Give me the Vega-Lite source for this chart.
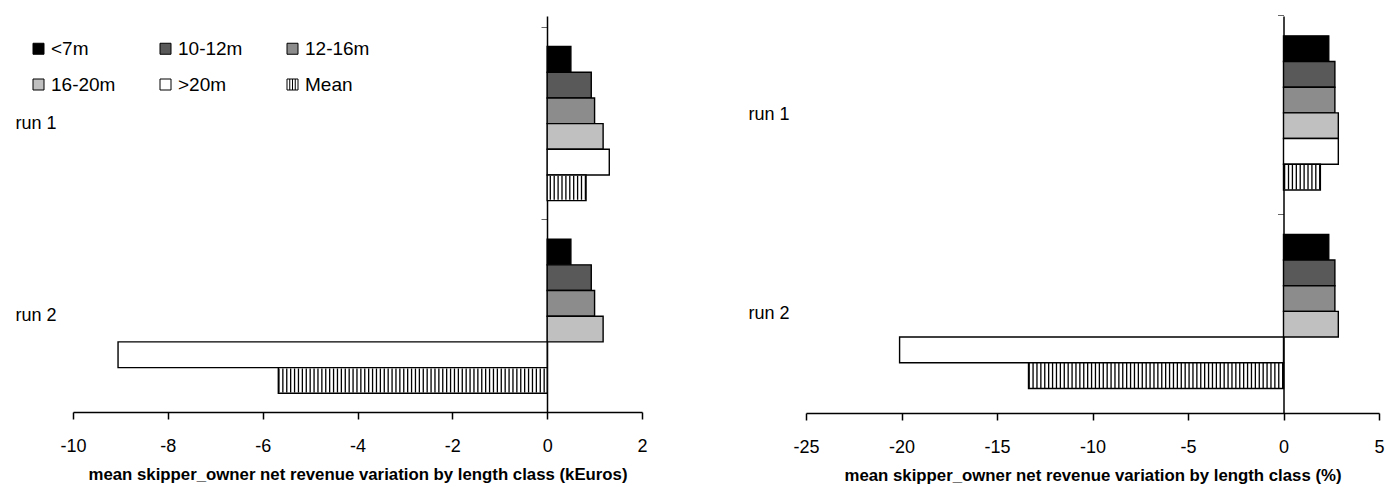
{
  "$schema": "https://vega.github.io/schema/vega-lite/v6.json",
  "padding": {"left": 14, "top": 14, "right": 0, "bottom": 0},
  "background": "white",
  "config": {
    "font": "Liberation Sans",
    "view": {"stroke": null},
    "axis": {"labelColor": "black", "titleColor": "black", "labelFont": "Liberation Sans", "titleFont": "Liberation Sans"},
    "legend": {"labelFont": "Liberation Sans", "labelColor": "black"}
  },
  "data": {"values": [
    {"unit": "kEuros", "run": "run 1", "cls": "<7m", "value": 0.5},
    {"unit": "kEuros", "run": "run 1", "cls": "10-12m", "value": 0.93},
    {"unit": "kEuros", "run": "run 1", "cls": "12-16m", "value": 1.0},
    {"unit": "kEuros", "run": "run 1", "cls": "16-20m", "value": 1.18},
    {"unit": "kEuros", "run": "run 1", "cls": ">20m", "value": 1.31},
    {"unit": "kEuros", "run": "run 1", "cls": "Mean", "value": 0.82},
    {"unit": "kEuros", "run": "run 2", "cls": "<7m", "value": 0.5},
    {"unit": "kEuros", "run": "run 2", "cls": "10-12m", "value": 0.93},
    {"unit": "kEuros", "run": "run 2", "cls": "12-16m", "value": 1.0},
    {"unit": "kEuros", "run": "run 2", "cls": "16-20m", "value": 1.18},
    {"unit": "kEuros", "run": "run 2", "cls": ">20m", "value": -9.05},
    {"unit": "kEuros", "run": "run 2", "cls": "Mean", "value": -5.67},
    {"unit": "pct", "run": "run 1", "cls": "<7m", "value": 2.37},
    {"unit": "pct", "run": "run 1", "cls": "10-12m", "value": 2.69},
    {"unit": "pct", "run": "run 1", "cls": "12-16m", "value": 2.69},
    {"unit": "pct", "run": "run 1", "cls": "16-20m", "value": 2.87},
    {"unit": "pct", "run": "run 1", "cls": ">20m", "value": 2.87},
    {"unit": "pct", "run": "run 1", "cls": "Mean", "value": 1.93},
    {"unit": "pct", "run": "run 2", "cls": "<7m", "value": 2.37},
    {"unit": "pct", "run": "run 2", "cls": "10-12m", "value": 2.69},
    {"unit": "pct", "run": "run 2", "cls": "12-16m", "value": 2.69},
    {"unit": "pct", "run": "run 2", "cls": "16-20m", "value": 2.87},
    {"unit": "pct", "run": "run 2", "cls": ">20m", "value": -20.1},
    {"unit": "pct", "run": "run 2", "cls": "Mean", "value": -13.35}
  ]},
  "spacing": 99,
  "resolve": {"legend": {"fill": "independent"}, "scale": {"fill": "independent"}},
  "hconcat": [
    {
      "width": 569,
      "height": 396,
      "transform": [{"filter": "datum.unit === 'kEuros'"}],
      "resolve": {"axis": {"y": "independent"}},
      "encoding": {
        "x": {"field": "value", "type": "quantitative",
          "scale": {"domain": [-10, 2], "nice": false, "zero": false},
          "axis": {"title": "mean skipper_owner net revenue variation by length class (kEuros)",
            "values": [-10, -8, -6, -4, -2, 0, 2], "grid": false, "labelExpr": "'' + datum.value",
            "domainColor": "black", "domainWidth": 1.5, "tickColor": "black", "tickWidth": 1.5, "tickSize": 7,
            "labelFontSize": 18, "labelFlush": false, "labelPadding": 18,
            "titleFontSize": 16.8, "titleFontWeight": "bold", "titlePadding": 11}}
      },
      "layer": [
        {
          "mark": {"type": "bar", "stroke": "black", "strokeWidth": 1.4},
          "encoding": {
            "y": {"field": "run", "type": "nominal",
              "scale": {"domain": ["run 1", "run 2"], "paddingInner": 0.2, "paddingOuter": 0.128, "align": 0.62},
              "axis": {"title": null, "domain": false, "ticks": false, "tickSize": 0, "labelPadding": 17, "labelFontSize": 18, "labelAngle": 0}},
            "yOffset": {"field": "cls", "type": "nominal",
              "scale": {"domain": ["<7m", "10-12m", "12-16m", "16-20m", ">20m", "Mean"], "paddingInner": 0, "paddingOuter": 0}},
            "fill": {"field": "cls", "type": "nominal",
              "scale": {"domain": ["<7m", "10-12m", "12-16m", "16-20m", ">20m", "Mean"],
                "range": ["#000000", "#595959", "#8c8c8c", "#c0c0c0", "#ffffff", "#ffffff"]},
              "legend": {"title": null, "orient": "none", "legendX": -44, "legendY": 23, "columns": 3, "direction": "horizontal",
                "symbolType": "square", "symbolSize": 121, "symbolStrokeColor": "black", "symbolStrokeWidth": 1,
                "labelFontSize": 19, "labelOffset": 3, "columnPadding": 40, "rowPadding": 16, "padding": 0, "gridAlign": "all",
                "encode": {"symbols": {"update": {"shape": [
                  {"test": "datum.value === 'Mean'", "value": "M-1,-1H1V1H-1Z M-0.5,-1V1 M0,-1V1 M0.5,-1V1"},
                  {"value": "square"}]}}}}}
          }
        },
        {
          "transform": [{"filter": "datum.cls === 'Mean'"}],
          "mark": {"type": "rule", "color": "black", "strokeWidth": 24, "strokeDash": [1.3, 2.6], "strokeCap": "butt"},
          "encoding": {
            "y": {"field": "run", "type": "nominal",
              "scale": {"domain": ["run 1", "run 2"]},
              "axis": {"orient": "left", "offset": -474, "labels": false, "title": null, "domain": true, "domainColor": "black", "domainWidth": 1.5,
                "ticks": true, "tickSize": 6, "tickColor": "#666666", "tickWidth": 1, "bandPosition": -0.125}},
            "yOffset": {"field": "cls", "type": "nominal",
              "scale": {"domain": ["<7m", "10-12m", "12-16m", "16-20m", ">20m", "Mean"]}},
            "x2": {"datum": 0}
          }
        }
      ]
    },
    {
      "width": 573,
      "height": 397,
      "transform": [{"filter": "datum.unit === 'pct'"}],
      "resolve": {"axis": {"y": "independent"}},
      "encoding": {
        "x": {"field": "value", "type": "quantitative",
          "scale": {"domain": [-25, 5], "nice": false, "zero": false},
          "axis": {"title": "mean skipper_owner net revenue variation by length class (%)",
            "values": [-25, -20, -15, -10, -5, 0, 5], "grid": false, "labelExpr": "'' + datum.value",
            "domainColor": "black", "domainWidth": 1.5, "tickColor": "black", "tickWidth": 1.5, "tickSize": 7,
            "labelFontSize": 18, "labelFlush": false, "labelPadding": 18,
            "titleFontSize": 16.8, "titleFontWeight": "bold", "titlePadding": 11}}
      },
      "layer": [
        {
          "mark": {"type": "bar", "stroke": "black", "strokeWidth": 1.4},
          "encoding": {
            "y": {"field": "run", "type": "nominal",
              "scale": {"domain": ["run 1", "run 2"], "paddingInner": 0.2, "paddingOuter": 0.1},
              "axis": {"title": null, "domain": false, "ticks": false, "tickSize": 0, "labelPadding": 17, "labelFontSize": 18, "labelAngle": 0}},
            "yOffset": {"field": "cls", "type": "nominal",
              "scale": {"domain": ["<7m", "10-12m", "12-16m", "16-20m", ">20m", "Mean"], "paddingInner": 0, "paddingOuter": 0}},
            "fill": {"field": "cls", "type": "nominal",
              "scale": {"domain": ["<7m", "10-12m", "12-16m", "16-20m", ">20m", "Mean"],
                "range": ["#000000", "#595959", "#8c8c8c", "#c0c0c0", "#ffffff", "#ffffff"]},
              "legend": null}
          }
        },
        {
          "transform": [{"filter": "datum.cls === 'Mean'"}],
          "mark": {"type": "rule", "color": "black", "strokeWidth": 25, "strokeDash": [1.3, 2.6], "strokeCap": "butt"},
          "encoding": {
            "y": {"field": "run", "type": "nominal",
              "scale": {"domain": ["run 1", "run 2"]},
              "axis": {"orient": "left", "offset": -477.5, "labels": false, "title": null, "domain": true, "domainColor": "black", "domainWidth": 1.5,
                "ticks": true, "tickSize": 6, "tickColor": "#666666", "tickWidth": 1, "bandPosition": -0.125}},
            "yOffset": {"field": "cls", "type": "nominal",
              "scale": {"domain": ["<7m", "10-12m", "12-16m", "16-20m", ">20m", "Mean"]}},
            "x2": {"datum": 0}
          }
        }
      ]
    }
  ]
}
